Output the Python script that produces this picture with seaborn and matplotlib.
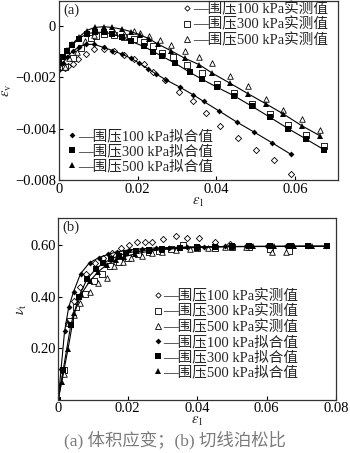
import numpy as np
import pandas as pd
import matplotlib
matplotlib.use("Agg")
import matplotlib.pyplot as plt
from matplotlib.lines import Line2D
import seaborn as sns

sns.set_theme(style="ticks")
plt.rcParams['font.family'] = ['Liberation Serif', 'Noto Sans CJK SC', 'DejaVu Sans']
plt.rcParams['mathtext.fontset'] = 'stix'
plt.rcParams['axes.unicode_minus'] = True

# ---------------- panel (a): volumetric strain ----------------
a_fit100_x = [0, 0.001, 0.002, 0.0035, 0.005, 0.0068, 0.009, 0.0114, 0.0136, 0.016, 0.0183, 0.0204,
              0.0226, 0.0248, 0.0271, 0.0307, 0.0341, 0.0368, 0.0406, 0.0452, 0.0497, 0.0543, 0.059]
a_fit100_y = [-0.0017, -0.00145, -0.00122, -0.00098, -0.00083, -0.00072, -0.00072, -0.00084, -0.00096,
              -0.0011, -0.00126, -0.00145, -0.00167, -0.00188, -0.00209, -0.00238, -0.00268, -0.00294,
              -0.0033, -0.00374, -0.00414, -0.00456, -0.005]
a_fit300_x = [0, 0.001, 0.002, 0.0034, 0.005, 0.007, 0.0091, 0.0114, 0.0136, 0.016, 0.0183, 0.0216,
              0.024, 0.0263, 0.0295, 0.0333, 0.0363, 0.0401, 0.0445, 0.0491, 0.0536, 0.0583, 0.0628, 0.0674]
a_fit300_y = [-0.00145, -0.0012, -0.00098, -0.00074, -0.0005, -0.00031, -0.00025, -0.00025, -0.00031,
              -0.00044, -0.0006, -0.0008, -0.001, -0.00119, -0.00145, -0.00181, -0.00207, -0.00238,
              -0.00272, -0.00313, -0.00355, -0.004, -0.0044, -0.00482]
a_fit500_x = [0, 0.001, 0.002, 0.0034, 0.005, 0.007, 0.0091, 0.0114, 0.0136, 0.016, 0.0183, 0.0206,
              0.0229, 0.0252, 0.0284, 0.032, 0.0357, 0.039, 0.0435, 0.0481, 0.0526, 0.057, 0.0617, 0.0663]
a_fit500_y = [-0.00145, -0.0012, -0.00095, -0.0007, -0.00045, -0.00018, -0.00006, -0.00003, -0.00006,
              -0.00013, -0.00022, -0.00035, -0.0005, -0.00071, -0.00096, -0.00126, -0.00151, -0.00184,
              -0.00223, -0.00264, -0.00303, -0.00342, -0.00388, -0.00427]

a_mea100_x = [0.0015, 0.0024, 0.0036, 0.0048, 0.0068, 0.009, 0.0115, 0.014, 0.0165, 0.019, 0.0215,
              0.024, 0.027, 0.0306, 0.034, 0.0375, 0.0409, 0.0456, 0.05, 0.0546, 0.0591]
a_mea100_y = [-0.00164, -0.00158, -0.00149, -0.0013, -0.0011, -0.0009, -0.00088, -0.00098, -0.00112,
              -0.0013, -0.0015, -0.0018, -0.0021, -0.00256, -0.00294, -0.0034, -0.00388, -0.00436,
              -0.00482, -0.00523, -0.00575]
a_mea300_x = [0.0015, 0.0036, 0.0057, 0.0081, 0.0095, 0.0115, 0.014, 0.0165, 0.019, 0.0216, 0.024,
              0.0263, 0.029, 0.0325, 0.0363, 0.0401, 0.0445, 0.0491, 0.0536, 0.0583, 0.0628, 0.0674]
a_mea300_y = [-0.0016, -0.00126, -0.00087, -0.00048, -0.0004, -0.00033, -0.00035, -0.00042, -0.0005,
              -0.00061, -0.0008, -0.00105, -0.0012, -0.00151, -0.00184, -0.00225, -0.00261, -0.00303,
              -0.00343, -0.00387, -0.00425, -0.00466]
a_mea500_x = [0.0015, 0.0025, 0.0045, 0.0065, 0.009, 0.0115, 0.014, 0.0165, 0.019, 0.0206, 0.0229,
              0.0257, 0.0286, 0.032, 0.0357, 0.0388, 0.0435, 0.0481, 0.0526, 0.057, 0.0617, 0.0663]
a_mea500_y = [-0.0016, -0.00125, -0.001, -0.0006, -0.00035, -0.0002, -0.00022, -0.0003, -0.0002,
              -0.00028, -0.00039, -0.00055, -0.00074, -0.00096, -0.00121, -0.00145, -0.00194, -0.00233,
              -0.00285, -0.00326, -0.00362, -0.00404]

a_yticks = [0, -0.002, -0.004, -0.006]
a_yticklabels = ['0', '\u22120.002', '\u22120.004', '\u22120.008']
a_xticks = [0, 0.02, 0.04, 0.06]
a_xticklabels = ['0', '0.02', '0.04', '0.06']

# ---------------- panel (b): tangent Poisson ratio ----------------
b_fit100_x = [0, 0.0008, 0.0018, 0.003, 0.0044, 0.0064, 0.009, 0.0118, 0.0143, 0.0168, 0.0205, 0.024,
              0.028, 0.032, 0.037, 0.042, 0.048, 0.054, 0.06, 0.066, 0.072, 0.077]
b_fit100_y = [0, 0.12, 0.265, 0.36, 0.42, 0.49, 0.533, 0.553, 0.565, 0.575, 0.583, 0.587, 0.59, 0.592,
              0.594, 0.595, 0.596, 0.596, 0.596, 0.596, 0.597, 0.597]
b_fit300_x = [0, 0.0014, 0.0036, 0.0059, 0.0083, 0.0108, 0.0129, 0.0152, 0.0174, 0.0195, 0.0225, 0.026,
              0.03, 0.035, 0.04, 0.045, 0.05, 0.055, 0.061, 0.067, 0.072, 0.0775]
b_fit300_y = [0, 0.115, 0.29, 0.40, 0.47, 0.508, 0.531, 0.547, 0.56, 0.57, 0.577, 0.583, 0.587, 0.591,
              0.593, 0.595, 0.596, 0.596, 0.597, 0.597, 0.597, 0.597]
b_fit500_x = [0, 0.001, 0.0028, 0.0046, 0.0066, 0.009, 0.0115, 0.014, 0.0165, 0.019, 0.022, 0.026, 0.03,
              0.035, 0.04, 0.045, 0.05, 0.056, 0.062, 0.068, 0.073, 0.077]
b_fit500_y = [0, 0.07, 0.197, 0.335, 0.41, 0.46, 0.498, 0.525, 0.543, 0.556, 0.567, 0.577, 0.584, 0.589,
              0.592, 0.594, 0.595, 0.596, 0.596, 0.597, 0.597, 0.597]

b_mea100_x = [0.0029, 0.0045, 0.0062, 0.008, 0.0105, 0.013, 0.0155, 0.018, 0.0203, 0.0226, 0.025, 0.0271,
              0.0303, 0.0338, 0.0371, 0.0405, 0.0452, 0.0495, 0.055, 0.061, 0.066]
b_mea100_y = [0.297, 0.385, 0.44, 0.49, 0.53, 0.55, 0.57, 0.59, 0.603, 0.612, 0.613, 0.613, 0.625, 0.635,
              0.629, 0.629, 0.612, 0.607, 0.598, 0.596, 0.596]
b_mea300_x = [0.0015, 0.0033, 0.0052, 0.0078, 0.0102, 0.0125, 0.015, 0.0175, 0.02, 0.023, 0.026, 0.029,
              0.0325, 0.036, 0.04, 0.045, 0.05, 0.055, 0.061, 0.0665]
b_mea300_y = [0.115, 0.305, 0.36, 0.41, 0.46, 0.49, 0.52, 0.535, 0.55, 0.565, 0.575, 0.58, 0.585, 0.6,
              0.592, 0.59, 0.595, 0.595, 0.585, 0.58]
b_mea500_x = [0.0015, 0.0029, 0.0045, 0.0062, 0.009, 0.0115, 0.014, 0.016, 0.0185, 0.021, 0.024, 0.027,
              0.03, 0.034, 0.038, 0.043, 0.048, 0.054, 0.0615, 0.0655]
b_mea500_y = [0.1, 0.297, 0.33, 0.375, 0.42, 0.455, 0.475, 0.52, 0.535, 0.55, 0.56, 0.57, 0.575, 0.582,
              0.585, 0.59, 0.593, 0.594, 0.575, 0.575]

b_yticks = [0.2, 0.4, 0.6]
b_yticklabels = ['0.20', '0.40', '0.60']
b_xticks = [0, 0.02, 0.04, 0.06, 0.08]
b_xticklabels = ['0', '0.02', '0.04', '0.06', '0.08']

labels_mea = ['\u2014围压100 kPa实测值', '\u2014围压300 kPa实测值', '\u2014围压500 kPa实测值']
labels_fit = ['\u2014围压100 kPa拟合值', '\u2014围压300 kPa拟合值', '\u2014围压500 kPa拟合值']
caption = '(a) 体积应变；(b) 切线泊松比'

markers = ['D', 's', '^']
fit_ms = [3.0, 4.4, 4.2]
mea_s = [10, 16, 16]

FS = 10.5
LFS = 10.5
fig = plt.figure(figsize=(3.5, 4.53), dpi=100)
ax1 = fig.add_axes([0.1686, 0.6026, 0.7974, 0.3952])
ax2 = fig.add_axes([0.1666, 0.1181, 0.7934, 0.4007])


def draw(ax, fits, meas):
    for (fx, fy), m, ms in zip(fits, markers, fit_ms):
        sns.lineplot(x=fx, y=fy, ax=ax, color='black', linewidth=0.8, marker=m,
                     markersize=ms, markeredgewidth=0, estimator=None, sort=False)
    for (mx, my), m, s in zip(meas, markers, mea_s):
        sns.scatterplot(x=mx, y=my, ax=ax, marker=m, s=s, facecolors='white',
                        edgecolor='black', linewidth=0.6, zorder=1)


def style(ax):
    for sp in ax.spines.values():
        sp.set_linewidth(0.9)
        sp.set_color('#333333')
    ax.tick_params(direction='in', length=3, width=0.8, labelsize=FS, pad=2,
                   colors='black')
    ax.grid(False)


def handles(filled):
    hs = []
    for m, ms in zip(markers, fit_ms):
        if filled:
            hs.append(Line2D([], [], linestyle='none', marker=m, markersize=ms,
                             color='black', markeredgewidth=0))
        else:
            hs.append(Line2D([], [], linestyle='none', marker=m, markersize=ms * 0.9,
                             markerfacecolor='white', markeredgecolor='black',
                             markeredgewidth=0.6))
    return hs


leg_kw = dict(frameon=False, fontsize=LFS, handlelength=0.6, handletextpad=0.1,
              labelspacing=0.08, borderaxespad=0.2)

draw(ax1, [(a_fit100_x, a_fit100_y), (a_fit300_x, a_fit300_y), (a_fit500_x, a_fit500_y)],
     [(a_mea100_x, a_mea100_y), (a_mea300_x, a_mea300_y), (a_mea500_x, a_mea500_y)])
ax1.set_xlim(0, 0.071)
ax1.set_ylim(-0.006, 0.00097)
ax1.set_xticks(a_xticks)
ax1.set_xticklabels(a_xticklabels)
ax1.set_yticks(a_yticks)
ax1.set_yticklabels(a_yticklabels)
style(ax1)
ax1.set_xlabel(r'$\varepsilon_1$', fontsize=FS, labelpad=0)
ax1.set_ylabel(r'$\varepsilon_\mathrm{v}$', fontsize=FS, labelpad=1)
ax1.text(0.015, 0.985, '(a)', transform=ax1.transAxes, fontsize=FS, va='top', ha='left')
leg1 = ax1.legend(handles(False), labels_mea, loc='upper right', bbox_to_anchor=(0.995, 1.045),
                  **leg_kw)
ax1.add_artist(leg1)
ax1.legend(handles(True), labels_fit, loc='lower left', bbox_to_anchor=(0.0, -0.01), **leg_kw)

draw(ax2, [(b_fit100_x, b_fit100_y), (b_fit300_x, b_fit300_y), (b_fit500_x, b_fit500_y)],
     [(b_mea100_x, b_mea100_y), (b_mea300_x, b_mea300_y), (b_mea500_x, b_mea500_y)])
ax2.set_xlim(0, 0.08)
ax2.set_ylim(0, 0.707)
ax2.set_xticks(b_xticks)
ax2.set_xticklabels(b_xticklabels)
ax2.set_yticks(b_yticks)
ax2.set_yticklabels(b_yticklabels)
style(ax2)
ax2.set_xlabel(r'$\varepsilon_1$', fontsize=FS, labelpad=0)
ax2.set_ylabel(r'$\nu_\mathrm{t}$', fontsize=FS, labelpad=1)
ax2.text(0.015, 0.985, '(b)', transform=ax2.transAxes, fontsize=FS, va='top', ha='left')
ax2.legend(handles(False) + handles(True), labels_mea + labels_fit, loc='lower left',
           bbox_to_anchor=(0.31, 0.065), **leg_kw)

fig.text(0.5, 0.028, caption, ha='center', va='center', fontsize=12.5, color='#7a7a7a')

fig.savefig('out.png', dpi=100)
